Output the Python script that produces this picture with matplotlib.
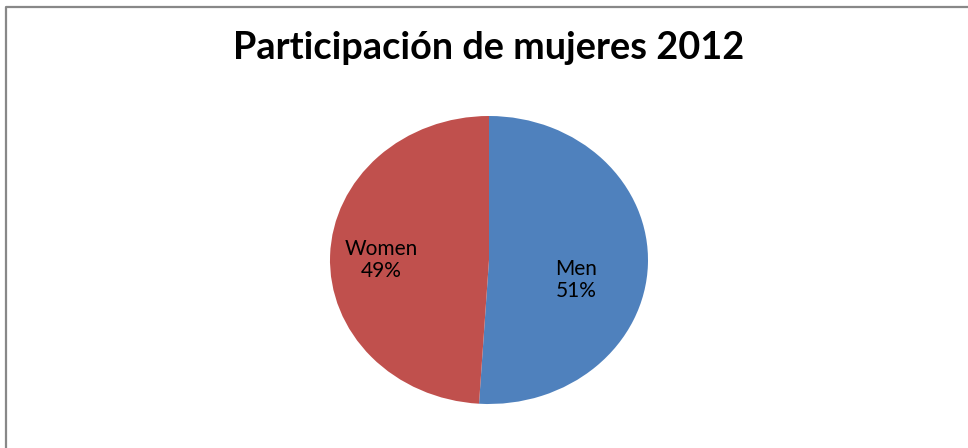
import numpy as np
import matplotlib.pyplot as plt
from matplotlib.lines import Line2D

labels = ["Men", "Women"]
shares = [51, 49]
colors = ["#4F81BD", "#C0504D"]
title = "Participación de mujeres 2012"

W, H = 968, 448
fig = plt.figure(figsize=(W / 100, H / 100), dpi=100)
fig.patch.set_facecolor("white")

# pie drawn as an ellipse: center (489, 260) px, radii 159 x 144 px
cx, cy, rx, ry = 489, 260, 159, 144
ax = fig.add_axes([(cx - rx) / W, (H - cy - ry) / H, 2 * rx / W, 2 * ry / H])
wedges, _ = ax.pie(shares, colors=colors, startangle=90, counterclock=False,
                   wedgeprops=dict(linewidth=0))
ax.set_aspect("auto")
ax.set_xlim(-1, 1)
ax.set_ylim(-1, 1)
ax.axis("off")

# label positions inside each slice (relative to pie radius)
label_pos = [(0.55, -0.14), (-0.68, 0.0)]
for lab, v, (x, y) in zip(labels, shares, label_pos):
    ax.text(x, y, f"{lab}\n{v}%", ha="center", va="center", fontsize=15,
            family="Lato", linespacing=1.15, color="black")

fig.text(cx / W, 1 - 48 / H, title, ha="center", va="center",
         fontsize=27.3, fontweight="bold", family="Lato")

# chart-area border (left and top)
fig.add_artist(Line2D([6 / W, 6 / W, 1], [0, 1 - 7 / H, 1 - 7 / H],
                      transform=fig.transFigure, color="#888888", lw=1.6))

fig.savefig("out.png", dpi=100)
